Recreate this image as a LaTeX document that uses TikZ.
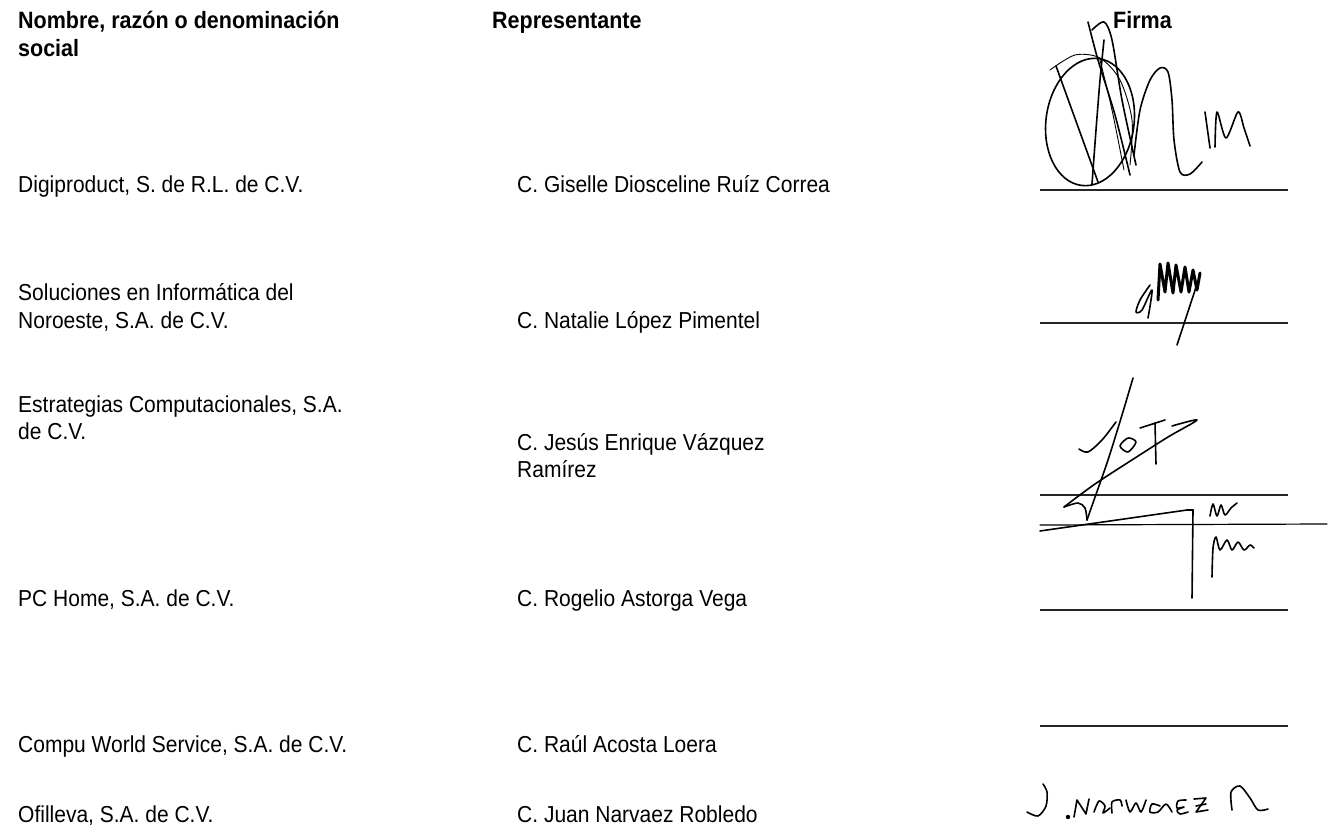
\documentclass[tikz,border=0pt]{standalone}
\usepackage{fontspec}
\setmainfont{Liberation Sans}
\newcommand{\tall}[1]{\scalebox{1}[1.1]{#1}}
\begin{document}
\begin{tikzpicture}[x=1pt,y=-1pt,
  txt/.style={anchor=base west,inner sep=0pt,font=\fontsize{21}{28}\selectfont},
  hdr/.style={anchor=base west,inner sep=0pt,font=\fontsize{21.5}{28}\selectfont\bfseries},
  sigline/.style={line width=1.3pt,black!85},
  pen/.style={line width=1.6pt,line cap=round,line join=round},
  thinpen/.style={line width=0.9pt,line cap=round,line join=round}]
\useasboundingbox (0,0) rectangle (1331,838);
\fill[white] (0,0) rectangle (1331,838);
% headers
\node[hdr] (h1) at (18,28) {\tall{Nombre, razón o denominación}};
\node[hdr] (h1b) at (18,56) {\tall{social}};
\node[hdr] (h2) at (492,28) {\tall{Representante}};
\node[hdr] (h3) at (1113,28) {\tall{Firma}};
% rows
\node[txt] (c1) at (18,192) {\tall{Digiproduct, S. de R.L. de C.V.}};
\node[txt] (r1) at (517,192) {\tall{C. Giselle Diosceline Ruíz Correa}};
\node[txt] (c2a) at (18,300) {\tall{Soluciones en Informática del}};
\node[txt] (c2b) at (18,328) {\tall{Noroeste, S.A. de C.V.}};
\node[txt] (r2) at (517,328) {\tall{C. Natalie López Pimentel}};
\node[txt] (c3a) at (18,412) {\tall{Estrategias Computacionales, S.A.}};
\node[txt] (c3b) at (18,439) {\tall{de C.V.}};
\node[txt] (r3a) at (517,450) {\tall{C. Jesús Enrique Vázquez}};
\node[txt] (r3b) at (517,477) {\tall{Ramírez}};
\node[txt] (c4) at (18,606) {\tall{PC Home, S.A. de C.V.}};
\node[txt] (r4) at (517,606) {\tall{C. Rogelio Astorga Vega}};
\node[txt] (c5) at (18,752) {\tall{Compu World Service, S.A. de C.V.}};
\node[txt] (r5) at (517,752) {\tall{C. Raúl Acosta Loera}};
\node[txt] (c6) at (18,822) {\tall{Ofilleva, S.A. de C.V.}};
\node[txt] (r6) at (517,822) {\tall{C. Juan Narvaez Robledo}};
% signature lines
\coordinate (l1a) at (1040,190); \coordinate (l1b) at (1288,190);
\coordinate (l2a) at (1040,323); \coordinate (l2b) at (1288,323);
\coordinate (l3a) at (1040,495); \coordinate (l3b) at (1288,495);
\coordinate (l4a) at (1040,610); \coordinate (l4b) at (1288,610);
\coordinate (l5a) at (1040,726); \coordinate (l5b) at (1288,726);
\draw[sigline] (l1a) -- (l1b);
\draw[sigline] (l2a) -- (l2b);
\draw[sigline] (l3a) -- (l3b);
\draw[sigline] (l4a) -- (l4b);
\draw[sigline] (l5a) -- (l5b);
% signature 1
\draw[pen,rotate around={-8:(1090,122)}] (1090,122) ellipse (44 and 64);
\draw[thinpen] plot[smooth] coordinates {(1050,70) (1075,55) (1100,58) (1120,80) (1132,120) (1130,165)};
\draw[pen] plot[smooth] coordinates {(1088,22) (1098,60) (1115,115) (1130,175)};
\draw[pen] plot[smooth] coordinates {(1092,30) (1104,22) (1112,40) (1122,100) (1136,165)};
\draw[pen] (1056,66) -- (1098,182);
\draw[pen] plot[smooth] coordinates {(1092,184) (1096,130) (1100,80) (1104,40)};
\draw[thinpen] plot[smooth] coordinates {(1100,60) (1112,110) (1124,170)};
\draw[pen] plot[smooth] coordinates {(1134,155) (1140,110) (1150,80) (1160,68) (1168,72) (1172,100) (1174,140) (1180,172) (1190,174) (1202,162)};
\draw[pen] (1205,112) -- (1210,148);
\draw[pen] plot[smooth] coordinates {(1215,147) (1217,112) (1226,138) (1238,112) (1244,128) (1250,146)};
% signature 2
\draw[line width=3pt,line cap=round,line join=round] plot coordinates {(1158,300) (1160,264) (1165,292) (1168,263) (1173,293) (1176,265) (1181,292) (1185,267) (1189,292) (1193,270) (1197,290) (1200,273)};
\draw[pen] plot[smooth] coordinates {(1150,285) (1140,300) (1136,312) (1142,310) (1152,290) (1148,318)};
\draw[pen] (1200,275) -- (1177,345);
% signature 3
\draw[pen] plot[smooth] coordinates {(1133,378) (1122,415) (1108,460) (1094,500) (1087,520)};
\draw[pen] plot[smooth] coordinates {(1064,507) (1078,503) (1085,508) (1087,520)};
\draw[pen] plot[smooth] coordinates {(1064,507) (1095,484) (1135,458) (1168,437) (1197,420) (1172,426)};
\draw[pen] plot[smooth] coordinates {(1079,449) (1088,452) (1102,440) (1116,422)};
\draw[pen] plot[smooth cycle] coordinates {(1120,446) (1128,438) (1136,442) (1128,452)};
\draw[pen] (1155,423) -- (1156,464);
\draw[pen] (1140,428) -- (1165,420);
% signature 4 (PC Home)
\draw[thinpen,line width=1.2pt] (1040,525) -- (1327,524);
\draw[pen] (1040,531) -- (1187,510) -- (1193,510);
\draw[pen] (1193,510) -- (1192,598);
\draw[pen] plot[smooth] coordinates {(1210,516) (1213,504) (1217,516) (1221,505) (1225,515) (1231,508) (1237,503)};
\draw[pen] plot[smooth] coordinates {(1212,577) (1213,548) (1216,537) (1220,550) (1227,540) (1232,550) (1238,542) (1244,550) (1250,545) (1254,548)};
% signature 6 (Ofilleva)
\draw[pen] plot[smooth] coordinates {(1027,812) (1038,816) (1046,806) (1047,792) (1043,784)};
\fill (1068,817) circle (2.2);
\draw[pen] plot coordinates {(1074,817) (1077,800) (1086,814) (1089,799)};
\draw[pen] plot[smooth] coordinates {(1094,812) (1099,801) (1105,806) (1103,813) (1110,808)};
\draw[pen] plot[smooth] coordinates {(1112,813) (1112,802) (1120,800) (1122,806)};
\draw[pen] plot[smooth] coordinates {(1126,800) (1130,812) (1136,803) (1141,812) (1146,800)};
\draw[pen] plot[smooth] coordinates {(1160,806) (1152,804) (1150,812) (1158,812) (1166,804) (1172,812)};
\draw[pen] plot[smooth] coordinates {(1186,800) (1178,801) (1177,808) (1184,807) (1177,810) (1180,814) (1188,812)};
\draw[pen] plot coordinates {(1194,799) (1206,798) (1196,812) (1208,810)};
\draw[pen] (1196,806) -- (1206,804);
\draw[pen] plot[smooth] coordinates {(1232,810) (1231,792) (1240,786) (1250,798) (1258,810) (1268,809)};
\end{tikzpicture}
\end{document}
